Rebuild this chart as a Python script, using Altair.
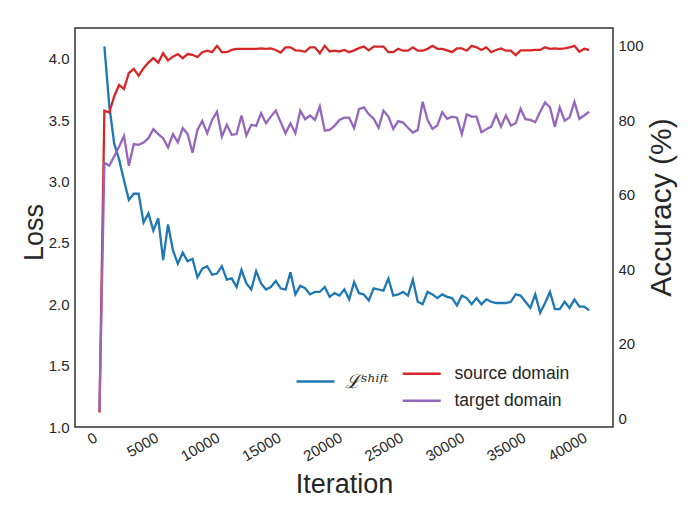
import altair as alt
import pandas as pd

# ---- data ----
loss_iter = [600 + 400 * i for i in range(100)]
loss = [4.10, 3.62, 3.31, 3.18, 3.01, 2.85, 2.90, 2.90, 2.665, 2.74,
        2.60, 2.70, 2.36, 2.65, 2.44, 2.33, 2.42, 2.35, 2.37, 2.22,
        2.29, 2.31, 2.24, 2.25, 2.31, 2.20, 2.21, 2.14, 2.28, 2.17,
        2.12, 2.27, 2.17, 2.12, 2.14, 2.19, 2.13, 2.12, 2.26, 2.08,
        2.15, 2.13, 2.08, 2.10, 2.10, 2.14, 2.06, 2.09, 2.07, 2.12,
        2.04, 2.18, 2.09, 2.08, 2.03, 2.13, 2.12, 2.11, 2.21, 2.07,
        2.08, 2.10, 2.07, 2.20, 2.02, 2.00, 2.10, 2.08, 2.05, 2.08,
        2.06, 2.05, 1.99, 2.07, 2.05, 2.00, 2.05, 2.00, 2.04, 2.02,
        2.01, 2.01, 2.01, 2.02, 2.08, 2.07, 2.02, 1.97, 2.08, 1.93,
        2.01, 2.10, 1.96, 1.96, 2.02, 1.97, 2.04, 1.98, 1.98, 1.95]

acc_iter = [200 + 400 * i for i in range(101)]
source = [1.5, 82.6, 82.1, 86.4, 89.5, 88.4, 92.7, 93.8, 92.0, 94.0,
          95.5, 96.7, 95.5, 98.0, 96.1, 97.1, 97.8, 96.7, 97.8, 97.6,
          97.0, 98.3, 98.7, 98.3, 100.0, 98.3, 98.3, 98.9, 99.2, 99.2,
          99.2, 99.2, 99.2, 99.3, 99.2, 99.3, 98.9, 98.2, 99.6, 99.6,
          98.8, 98.7, 98.4, 99.6, 99.6, 98.0, 100.0, 98.5, 98.7, 98.5,
          98.9, 98.3, 98.8, 99.4, 99.8, 98.8, 99.8, 99.8, 99.8, 98.3,
          98.3, 99.2, 98.7, 98.7, 99.6, 98.7, 98.7, 99.2, 100.0, 99.2,
          99.2, 98.8, 98.3, 99.3, 99.3, 98.7, 100.0, 99.6, 98.9, 99.6,
          98.3, 98.9, 99.3, 98.7, 98.7, 97.5, 98.8, 98.8, 98.8, 98.9,
          98.9, 99.6, 99.2, 99.3, 99.2, 99.3, 99.6, 100.0, 98.4, 99.2,
          98.9]
target = [2.1, 68.6, 67.8, 70.3, 72.9, 75.8, 67.8, 73.6, 73.4, 74.0,
          75.2, 77.6, 76.3, 75.2, 72.7, 76.3, 74.1, 77.9, 76.3, 71.3,
          77.4, 79.8, 76.5, 80.1, 82.3, 75.6, 78.8, 76.1, 76.3, 81.3,
          75.9, 78.8, 78.5, 81.9, 79.2, 81.0, 82.6, 79.5, 76.5, 79.2,
          76.5, 82.6, 80.3, 81.3, 80.1, 83.7, 77.2, 77.4, 78.5, 80.1,
          80.7, 80.7, 77.9, 83.0, 83.5, 81.6, 80.4, 78.0, 82.6, 81.0,
          77.7, 79.8, 79.4, 78.0, 76.7, 77.4, 85.0, 80.1, 77.7, 78.6,
          82.2, 80.4, 81.0, 80.7, 76.3, 81.6, 81.0, 81.0, 76.8, 77.6,
          78.3, 81.5, 78.3, 81.3, 78.6, 79.2, 83.1, 80.3, 80.1, 79.5,
          82.3, 84.8, 83.5, 78.3, 83.4, 79.9, 80.8, 85.0, 80.4, 81.3,
          82.3]

loss_name = "ℒˢʰⁱᶠᵗ"
acc_names = ["source domain", "target domain"]
x_ticks = [0, 5000, 10000, 15000, 20000, 25000, 30000, 35000, 40000]
loss_ticks = [1.0, 1.5, 2.0, 2.5, 3.0, 3.5, 4.0]
acc_ticks = [0, 20, 40, 60, 80, 100]

loss_df = pd.DataFrame({"Iteration": loss_iter, "Loss": loss,
                        "series": [loss_name] * len(loss)})
acc_df = pd.DataFrame({
    "Iteration": acc_iter + acc_iter,
    "Accuracy": source + target,
    "series": [acc_names[0]] * len(source) + [acc_names[1]] * len(target),
})

FONT = "Liberation Sans"
TXT = "#262626"

x_enc = alt.X(
    "Iteration:Q",
    scale=alt.Scale(domain=[-1800, 42150], nice=False, zero=False),
    axis=alt.Axis(values=x_ticks, format="d", labelAngle=330, labelAlign="right",
                  labelBaseline="top", labelPadding=3, labelOffset=-5,
                  title="Iteration", titleFontSize=27, titleFontWeight="normal",
                  titleY=65, titleBaseline="alphabetic", titleColor=TXT),
)

loss_layer = alt.Chart(loss_df).mark_line(strokeWidth=2.3, clip=True).encode(
    x=x_enc,
    y=alt.Y("Loss:Q",
            scale=alt.Scale(domain=[1.0, 4.25], nice=False, zero=False),
            axis=alt.Axis(orient="left", values=loss_ticks, format=".1f",
                          labelPadding=6, title="Loss", titleFontSize=27,
                          titleFontWeight="normal", titleAngle=270, titleX=-33,
                          titleY=204, titleBaseline="alphabetic",
                          titleAlign="center", titleColor=TXT)),
    color=alt.Color("series:N",
                    scale=alt.Scale(domain=[loss_name], range=["#1f77b4"]),
                    legend=alt.Legend(orient="none", legendX=231, legendY=344,
                                      title=None, symbolType="M-3,0H3",
                                      symbolSize=160, symbolStrokeWidth=2.5,
                                      labelOffset=20, labelFontSize=19,
                                      labelFont="DejaVu Serif",
                                      labelFontStyle="italic", labelColor=TXT)),
)

acc_layer = alt.Chart(acc_df).mark_line(strokeWidth=2.3, clip=True).encode(
    x=x_enc,
    y=alt.Y("Accuracy:Q",
            scale=alt.Scale(domain=[-2.4, 104.8], nice=False, zero=False),
            axis=alt.Axis(orient="right", values=acc_ticks, format="d",
                          labelPadding=5, title="Accuracy (%)", titleFontSize=30,
                          titleFontWeight="normal", titleAngle=270, titleX=57,
                          titleY=179, titleBaseline="alphabetic",
                          titleAlign="center", titleColor=TXT)),
    color=alt.Color("series:N",
                    scale=alt.Scale(domain=acc_names, range=["#d62728", "#9467bd"]),
                    legend=alt.Legend(orient="none", legendX=338, legendY=337,
                                      title=None, symbolType="M-3,0H3",
                                      symbolSize=160, symbolStrokeWidth=2.5,
                                      labelOffset=24, labelFontSize=17.5,
                                      rowPadding=8, labelFont=FONT,
                                      labelColor=TXT)),
)

chart = (
    alt.layer(loss_layer, acc_layer)
    .resolve_scale(y="independent", color="independent")
    .properties(width=538, height=399, autosize=alt.AutoSizeParams(type="none"),
                padding={"left": 67, "top": 20, "right": 75, "bottom": 70},
                background="white")
    .configure_view(stroke="#333333", strokeWidth=1.5)
    .configure_axis(domain=False, ticks=False, grid=False, labelFont=FONT,
                    labelFontSize=15, labelColor=TXT, titleFont=FONT)
    .configure_legend(labelFont=FONT)
)

chart.save("out.html", embed_options={"renderer": "svg", "actions": False})
